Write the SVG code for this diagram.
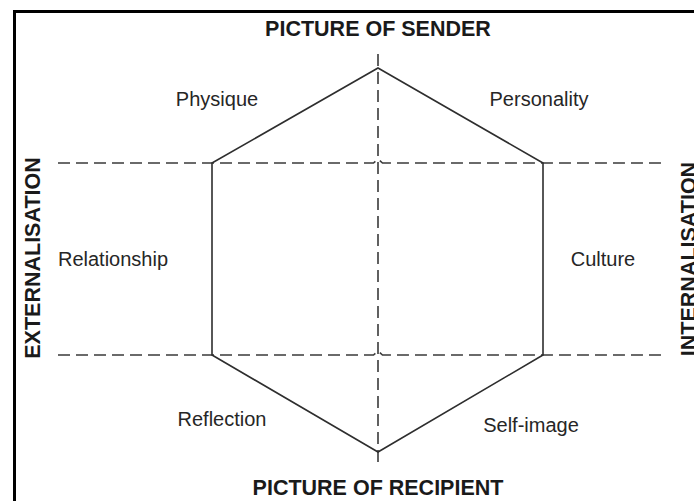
<svg xmlns="http://www.w3.org/2000/svg" width="694" height="501" viewBox="0 0 694 501">
<style>
.lbl{font-family:"Liberation Sans",Arial,sans-serif;font-size:20px;fill:#262626;text-anchor:middle}
.ttl{font-family:"Liberation Sans",Arial,sans-serif;font-size:21.5px;font-weight:bold;fill:#1a1a1a;text-anchor:middle}
.dash{fill:none;stroke:#3a3a3a;stroke-width:1.6;stroke-dasharray:12 6}
.hex{fill:none;stroke:#2e2e2e;stroke-width:1.6;stroke-linejoin:miter}
</style>
<rect width="694" height="501" fill="#fff"/>
<path d="M14.5 501V11.5H694" fill="none" stroke="#000" stroke-width="3"/>
<g id="connectors">
<path class="dash" d="M58 163H373.5l4.5-4 4.5 4H666"/>
<path class="dash" d="M58 355H373.5l4.5-4 4.5 4H666"/>
<path class="dash" d="M378 54V466"/>
</g>
<g id="hexagon">
<polygon class="hex" points="378,68 543,163 543,355 378,452 212,355 212,163"/>
</g>
<g id="titles">
<text class="ttl" x="378" y="36">PICTURE OF SENDER</text>
<text class="ttl" x="378" y="495">PICTURE OF RECIPIENT</text>
<text class="ttl" transform="translate(40 258) rotate(-90)">EXTERNALISATION</text>
<text class="ttl" transform="translate(696 259) rotate(-90)">INTERNALISATION</text>
</g>
<g id="physique"><text class="lbl" x="217" y="106">Physique</text></g>
<g id="personality"><text class="lbl" x="539" y="106">Personality</text></g>
<g id="relationship"><text class="lbl" x="113" y="266">Relationship</text></g>
<g id="culture"><text class="lbl" x="603" y="266">Culture</text></g>
<g id="reflection"><text class="lbl" x="222" y="426">Reflection</text></g>
<g id="selfimage"><text class="lbl" x="531" y="432">Self-image</text></g>
</svg>
